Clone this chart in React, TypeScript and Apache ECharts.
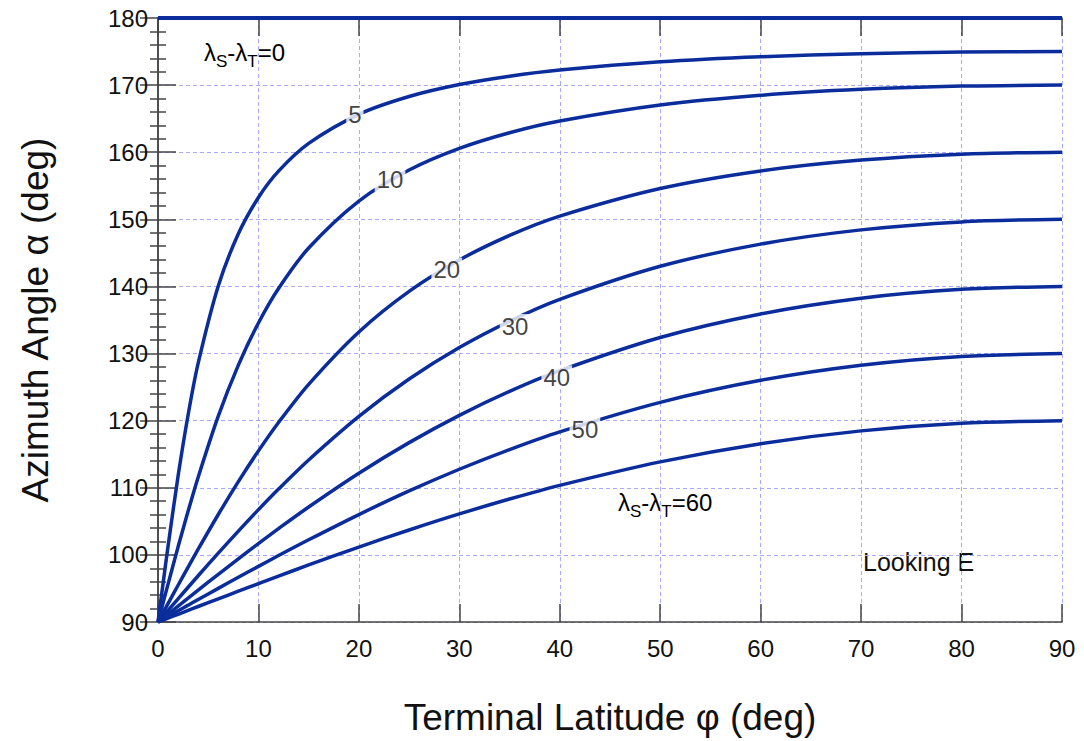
import React, { useEffect, useRef } from "react";
import * as echarts from "echarts";

const FONT = "Liberation Sans, Arial, sans-serif";
const CURVE = "#0b2d9c";

// Terminal latitude (deg)
const phi = [0, 0.5, 1, 2, 3, 4, 6, 8, 10, 12, 15, 20, 25, 30, 35, 40, 50, 60, 70, 80, 90];

// Azimuth angle (deg) per longitude difference λS-λT
const az0 = [180, 180, 180, 180, 180, 180, 180, 180, 180, 180, 180, 180, 180, 180, 180, 180, 180, 180, 180, 180, 180];
const az5 = [90, 95.7, 101.28, 111.75, 120.89, 128.57, 140.07, 147.85, 153.26, 157.18, 161.32, 165.65, 168.3, 170.08, 171.33, 172.25, 173.48, 174.23, 174.68, 174.92, 175];
const az10 = [90, 92.83, 95.65, 101.2, 106.53, 111.58, 120.67, 128.28, 134.56, 139.7, 145.73, 152.73, 157.35, 160.57, 162.91, 164.66, 167.04, 168.49, 169.37, 169.85, 170];
const az20 = [90, 91.37, 92.75, 95.48, 98.18, 100.85, 106.02, 110.92, 115.5, 119.73, 125.42, 133.22, 139.27, 143.94, 147.6, 150.48, 154.59, 157.21, 158.83, 159.71, 160];
const az30 = [90, 90.87, 91.73, 93.46, 95.18, 96.89, 100.26, 103.55, 106.74, 109.81, 114.15, 120.64, 126.2, 130.89, 134.81, 138.07, 143.0, 146.31, 148.43, 149.62, 150];
const az40 = [90, 90.6, 91.19, 92.38, 93.57, 94.75, 97.1, 99.42, 101.69, 103.92, 107.14, 112.17, 116.73, 120.79, 124.36, 127.45, 132.4, 135.9, 138.24, 139.57, 140];
const az50 = [90, 90.42, 90.84, 91.68, 92.51, 93.35, 95.01, 96.66, 98.29, 99.9, 102.25, 106.01, 109.53, 112.76, 115.7, 118.34, 122.73, 126.01, 128.26, 129.57, 130];
const az60 = [90, 90.29, 90.58, 91.15, 91.73, 92.31, 93.45, 94.59, 95.72, 96.84, 98.5, 101.17, 103.71, 106.1, 108.32, 110.36, 113.86, 116.57, 118.48, 119.62, 120];

const curveNames = ["0", "5", "10", "20", "30", "40", "50", "60"];
const curves = [az0, az5, az10, az20, az30, az40, az50, az60];

// Inline contour labels
const labelText = ["5", "10", "20", "30", "40", "50"];
const labelX = [19.6, 23.1, 28.75, 35.55, 39.7, 42.5];
const labelY = [165.55, 155.9, 142.5, 134.1, 126.45, 118.7];

const xTicks = [0, 10, 20, 30, 40, 50, 60, 70, 80, 90];
const yTicks = [90, 100, 110, 120, 130, 140, 150, 160, 170, 180];

const axisLine = { show: true, lineStyle: { color: "#444", width: 1.5 } };
const tick = { show: true, inside: true, length: 18, lineStyle: { color: "#444", width: 1.5 } };
const grid = { show: true, lineStyle: { type: [4, 3], color: "#a9a9ff", width: 1 } };

const rich = {
  a: { fontSize: 24, fontFamily: FONT, color: "#111" },
  s: { fontSize: 17, fontFamily: FONT, color: "#111", padding: [18, 0, 0, 0] },
};

export default function App() {
  const ref = useRef<HTMLDivElement>(null);
  useEffect(() => {
    const chart = echarts.init(ref.current!, null, { renderer: "svg" });
    const option: any = {
      animation: false,
      grid: { left: 158, right: 22, top: 18, bottom: 118 },
      xAxis: [
        {
          type: "value",
          min: xTicks[0],
          max: xTicks[xTicks.length - 1],
          interval: 10,
          position: "bottom",
          axisLine,
          axisTick: tick,
          axisLabel: { fontSize: 24, color: "#111", fontFamily: FONT, margin: 14 },
          splitLine: grid,
          name: "Terminal Latitude φ (deg)",
          nameLocation: "middle",
          nameGap: 77,
          nameTextStyle: { fontSize: 37, color: "#111", fontFamily: FONT },
        },
        {
          type: "value",
          min: xTicks[0],
          max: xTicks[xTicks.length - 1],
          interval: 10,
          position: "top",
          axisLine,
          axisTick: tick,
          axisLabel: { show: false },
          splitLine: { show: false },
        },
      ],
      yAxis: [
        {
          type: "value",
          min: yTicks[0],
          max: yTicks[yTicks.length - 1],
          interval: 10,
          position: "left",
          axisLine,
          axisTick: tick,
          minorTick: { show: true, splitNumber: 5, length: 8, lineStyle: { color: "#444", width: 1.5 } },
          axisLabel: { fontSize: 24, color: "#111", fontFamily: FONT, margin: 10 },
          splitLine: grid,
          name: "Azimuth Angle α (deg)",
          nameLocation: "middle",
          nameGap: 104,
          nameTextStyle: { fontSize: 37, color: "#111", fontFamily: FONT },
        },
        {
          type: "value",
          min: yTicks[0],
          max: yTicks[yTicks.length - 1],
          interval: 10,
          position: "right",
          axisLine,
          axisTick: tick,
          minorTick: { show: true, splitNumber: 5, length: 8, lineStyle: { color: "#444", width: 1.5 } },
          axisLabel: { show: false },
          splitLine: { show: false },
        },
      ],
      series: [
        ...curves.map((c, i) => ({
          type: "line",
          name: curveNames[i],
          data: phi.map((x, j) => [x, c[j]]),
          smooth: 0.3,
          showSymbol: false,
          symbol: "none",
          clip: false,
          z: 3,
          lineStyle: { color: CURVE, width: i === 0 ? 4 : 3.5 },
        })),
        {
          type: "scatter",
          data: labelX.map((x, i) => [x, labelY[i], labelText[i]]),
          symbolSize: 1,
          itemStyle: { color: "rgba(0,0,0,0)" },
          z: 10,
          silent: true,
          label: {
            show: true,
            position: "inside",
            formatter: (p: any) => p.value[2],
            fontSize: 24,
            fontFamily: FONT,
            color: "#111",
            backgroundColor: "#fff",
            padding: [0, 2],
          },
        },
      ],
      graphic: [
        {
          type: "text",
          left: 204,
          top: 40,
          style: { text: "{a|λ}{s|S}{a|-λ}{s|T}{a|=0}", rich },
        },
        {
          type: "text",
          left: 618,
          top: 490,
          style: { text: "{a|λ}{s|S}{a|-λ}{s|T}{a|=60}", rich },
        },
        {
          type: "text",
          left: 863,
          top: 549,
          style: { text: "Looking E", fontSize: 25, fontFamily: FONT, fill: "#111" },
        },
      ],
    };
    chart.setOption(option);
    return () => chart.dispose();
  }, []);
  return <div ref={ref} style={{ position: "absolute", left: 0, top: 0, width: 1084, height: 741 }} />;
}
